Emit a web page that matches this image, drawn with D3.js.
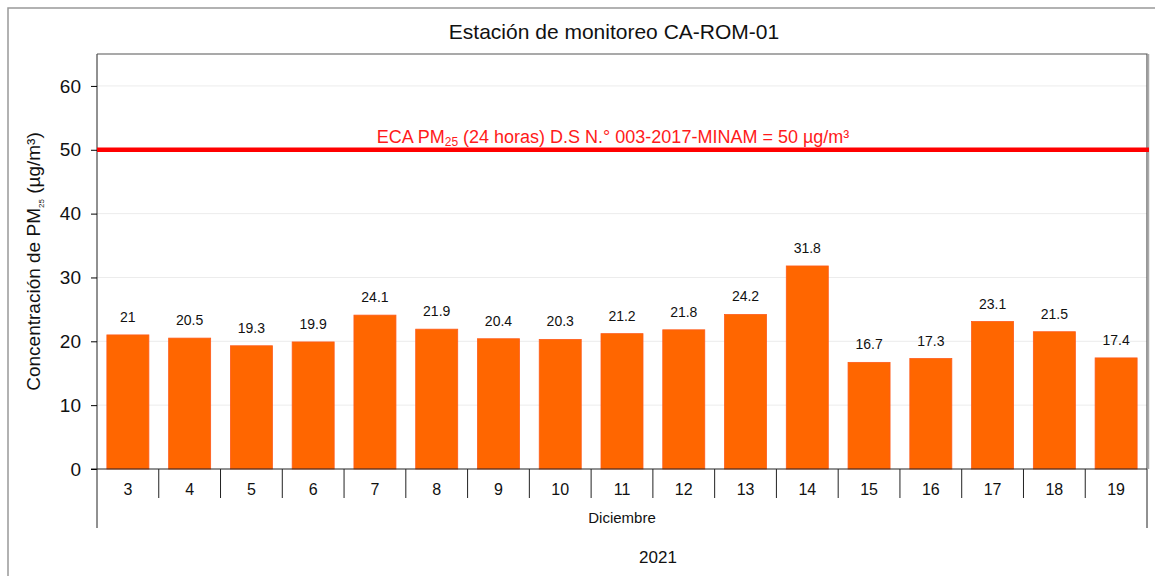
<!DOCTYPE html>
<html>
<head>
<meta charset="utf-8">
<script src="https://cdn.jsdelivr.net/npm/d3@7"></script>
<style>
  body { margin: 0; background: #fff; }
  svg text { font-family: "Liberation Sans", Arial, sans-serif; fill: #111; }
</style>
</head>
<body>
<svg id="chart" width="1155" height="576"></svg>
<script>
const days = ["3","4","5","6","7","8","9","10","11","12","13","14","15","16","17","18","19"];
const pm25 = [21, 20.5, 19.3, 19.9, 24.1, 21.9, 20.4, 20.3, 21.2, 21.8, 24.2, 31.8, 16.7, 17.3, 23.1, 21.5, 17.4];
const yTicks = [0, 10, 20, 30, 40, 50, 60];
const ecaLimit = 50;
const monthLabel = "Diciembre";
const yearLabel = "2021";

const svg = d3.select("#chart");
const m = { left: 97, top: 54, right: 1147, bottom: 469 };

// marco exterior
svg.append("rect")
  .attr("x", 8).attr("y", 8).attr("width", 1160).attr("height", 590)
  .attr("fill", "none").attr("stroke", "#999").attr("stroke-width", 1.5);

const x = d3.scaleBand().domain(days).range([m.left, m.right]);
const y = d3.scaleLinear().domain([0, 65]).range([m.bottom, m.top]);

// grilla
svg.append("g").selectAll("line")
  .data(yTicks.filter(d => d > 0))
  .join("line")
  .attr("x1", m.left).attr("x2", m.right)
  .attr("y1", d => y(d)).attr("y2", d => y(d))
  .attr("stroke", "#ececec");

// barras
const bw = x.bandwidth() * 0.68;
svg.append("g").selectAll("rect")
  .data(pm25)
  .join("rect")
  .attr("x", (d, i) => x(days[i]) + (x.bandwidth() - bw) / 2)
  .attr("y", d => y(d))
  .attr("width", bw)
  .attr("height", d => y(0) - y(d))
  .attr("fill", "#ff6600")
  .attr("stroke", "#ff5a1a")
  .attr("stroke-width", 0.8);

// etiquetas de valores
svg.append("g").selectAll("text")
  .data(pm25)
  .join("text")
  .attr("x", (d, i) => x(days[i]) + x.bandwidth() / 2)
  .attr("y", d => y(d) - 13)
  .attr("text-anchor", "middle")
  .attr("font-size", 14)
  .text(d => d);

// eje Y
const yAxis = d3.axisLeft(y).tickValues(yTicks).tickSize(6).tickPadding(10);
const gy = svg.append("g").attr("transform", `translate(${m.left},0)`).call(yAxis);
gy.select(".domain").attr("d", `M-6,${m.bottom}H0V${m.top}`).attr("stroke", "#222");
gy.selectAll("text").attr("font-size", 19).attr("fill", "#111");

// borde superior y derecho del área
svg.append("path")
  .attr("d", `M${m.left},${m.top}H${m.right}V${m.bottom}`)
  .attr("fill", "none").attr("stroke", "#555").attr("stroke-width", 1.2);
svg.append("line")
  .attr("x1", m.right + 1.5).attr("x2", m.right + 1.5)
  .attr("y1", m.top).attr("y2", m.bottom)
  .attr("stroke", "#aaa").attr("stroke-width", 1.5);

// eje X con categorías
svg.append("line")
  .attr("x1", m.left).attr("x2", m.right)
  .attr("y1", m.bottom).attr("y2", m.bottom)
  .attr("stroke", "#222");
const bounds = days.map(d => x(d)).concat([m.right]);
svg.append("g").selectAll("line")
  .data(bounds)
  .join("line")
  .attr("x1", d => d).attr("x2", d => d)
  .attr("y1", m.bottom)
  .attr("y2", (d, i) => (i === 0 || i === bounds.length - 1) ? 528 : 498)
  .attr("stroke", "#222");
svg.append("g").selectAll("text")
  .data(days)
  .join("text")
  .attr("x", d => x(d) + x.bandwidth() / 2)
  .attr("y", 495)
  .attr("text-anchor", "middle")
  .attr("font-size", 16)
  .text(d => d);

svg.append("text")
  .attr("x", 622).attr("y", 523)
  .attr("text-anchor", "middle")
  .attr("font-size", 15)
  .text(monthLabel);
svg.append("text")
  .attr("x", 658).attr("y", 563)
  .attr("text-anchor", "middle")
  .attr("font-size", 17)
  .text(yearLabel);

// línea ECA
svg.append("line")
  .attr("x1", m.left).attr("x2", 1149)
  .attr("y1", y(ecaLimit)).attr("y2", y(ecaLimit))
  .attr("stroke", "#ff0000").attr("stroke-width", 4.5);

const eca = svg.append("text")
  .attr("x", 613).attr("y", y(ecaLimit) - 7)
  .attr("text-anchor", "middle")
  .attr("font-size", 18)
  .style("fill", "#ff1a1a");
eca.append("tspan").text("ECA PM");
eca.append("tspan").attr("font-size", 12).attr("dy", 3).text("25");
eca.append("tspan").attr("dy", -3).text(" (24 horas) D.S N.° 003-2017-MINAM = 50 µg/m³");

// título
svg.append("text")
  .attr("x", 614).attr("y", 39)
  .attr("text-anchor", "middle")
  .attr("font-size", 21)
  .text("Estación de monitoreo CA-ROM-01");

// título eje Y
const yl = svg.append("text")
  .attr("transform", `translate(40,${(y(0) + y(65)) / 2}) rotate(-90)`)
  .attr("text-anchor", "middle")
  .attr("font-size", 19);
yl.append("tspan").text("Concentración de PM");
yl.append("tspan").attr("font-size", 8).attr("dy", 4).text("25");
yl.append("tspan").attr("dy", -4).text("  (µg/m³)");
</script>
</body>
</html>
